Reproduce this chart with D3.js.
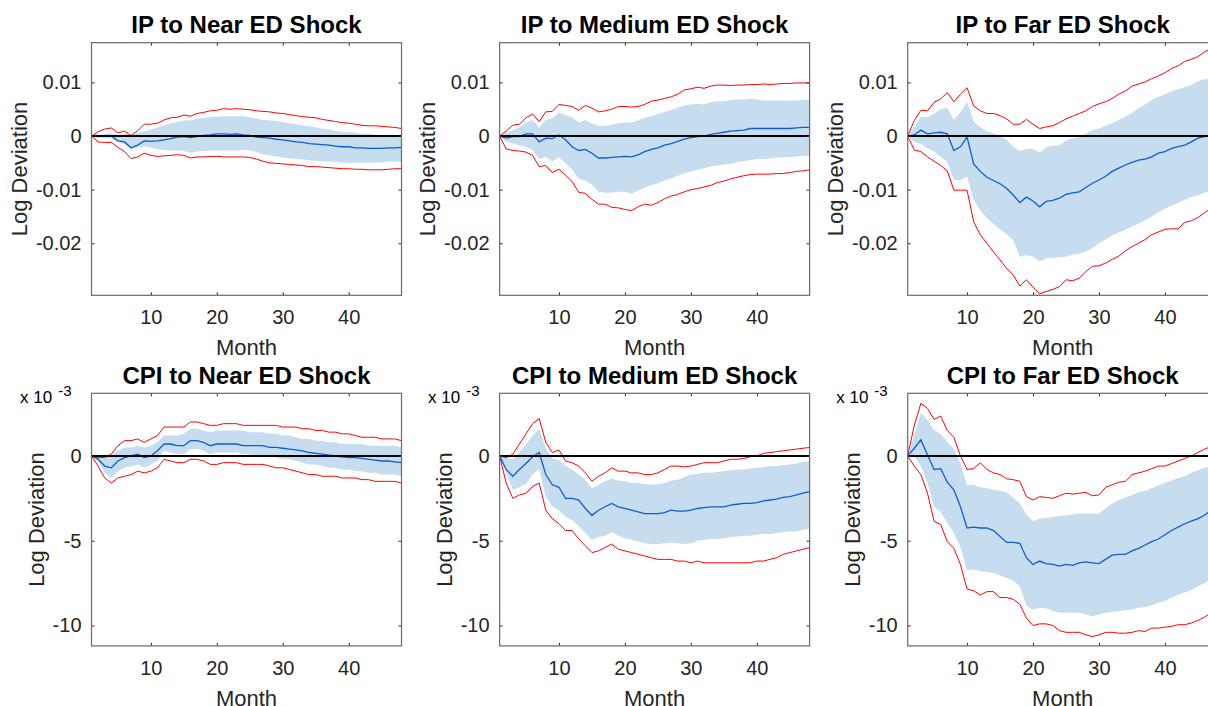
<!DOCTYPE html>
<html>
<head>
<meta charset="utf-8">
<script src="https://cdn.jsdelivr.net/npm/d3@7"></script>
<style>
  body { margin: 0; background: #fff; }
  svg { display: block; font-family: "Liberation Sans", Arial, Helvetica, sans-serif; }
</style>
</head>
<body>
<svg id="chart" width="1208" height="706"></svg>
<script>
// horizon in months
const months = d3.range(1, 49)

// every response below is in units of 10^-3 (log deviation x 1000)
// IP to Near ED shock
const ipNearMed  = [0,-0.1,0,0,-0.9,-1.1,-2.2,-1.7,-0.9,-1.0,-0.9,-0.7,-0.5,-0.2,-0.1,-0.3,-0.1,0.1,0.2,0.4,0.4,0.3,0.4,0.2,0.1,-0.2,-0.3,-0.4,-0.6,-0.7,-0.9,-1.1,-1.2,-1.4,-1.5,-1.6,-1.7,-1.9,-2.0,-2.0,-2.2,-2.2,-2.3,-2.3,-2.3,-2.2,-2.2,-2.1]
const ipNearHi68 = [0,0.2,0.4,0.5,0.2,0.4,0.1,0.6,0.9,1.2,1.6,2.0,2.4,2.6,2.9,2.9,3.2,3.4,3.5,3.6,3.7,3.7,3.7,3.7,3.5,3.2,3.0,2.9,2.8,2.6,2.4,2.2,2.0,1.8,1.6,1.4,1.2,1.0,0.8,0.7,0.6,0.4,0.4,0.3,0.2,0.2,0.2,0.1]
const ipNearLo68 = [0,-0.2,-0.4,-0.4,-1.1,-1.5,-2.5,-2.2,-1.9,-2.2,-2.4,-2.6,-2.7,-2.7,-2.8,-3.1,-2.9,-2.8,-2.7,-2.7,-2.7,-2.7,-2.7,-2.6,-2.7,-3.0,-3.4,-3.6,-3.8,-4.0,-4.2,-4.3,-4.4,-4.5,-4.6,-4.7,-4.8,-4.8,-4.9,-5.0,-5.0,-5.0,-5.0,-5.0,-4.9,-4.8,-4.8,-4.8]
const ipNearHi90 = [0,0.8,1.3,1.5,0.6,0.9,0.1,1.0,2.2,2.2,2.4,3.0,3.4,3.5,3.9,3.7,4.2,4.4,4.7,4.8,5.1,5.0,5.1,5.0,4.9,4.7,4.6,4.5,4.3,4.2,4.0,3.8,3.6,3.5,3.4,3.1,2.9,2.7,2.5,2.4,2.2,2.0,1.9,1.9,1.8,1.7,1.6,1.4]
const ipNearLo90 = [0,-1.1,-1.2,-1.2,-2.1,-2.9,-4.2,-3.9,-3.2,-3.6,-3.8,-3.7,-3.6,-3.5,-3.6,-4.1,-3.9,-3.9,-3.8,-3.8,-3.9,-3.9,-3.9,-3.9,-4.0,-4.3,-4.7,-5.0,-5.1,-5.2,-5.3,-5.4,-5.5,-5.7,-5.7,-5.8,-5.9,-6.0,-6.1,-6.1,-6.2,-6.2,-6.3,-6.3,-6.3,-6.2,-6.1,-6.1]

// IP to Medium ED shock
const ipMedMed  = [0,-0.4,-0.1,-0.1,0.4,0.4,-1.1,-0.4,-0.5,0.2,-0.7,-2.0,-2.7,-2.5,-3.2,-4.1,-4.1,-4.0,-3.9,-3.8,-3.9,-3.5,-2.9,-2.5,-2.2,-1.7,-1.4,-1.0,-0.6,-0.3,-0.1,0,0.3,0.5,0.7,0.9,1.0,1.1,1.4,1.4,1.4,1.4,1.4,1.4,1.4,1.5,1.6,1.6]
const ipMedHi68 = [0,0.5,1.1,1.6,2.5,3.0,1.6,3.0,3.3,4.4,3.9,3.5,2.5,3.0,2.4,1.9,1.9,2.1,2.4,2.5,2.5,2.9,3.4,3.7,4.1,4.5,4.8,5.3,5.7,5.9,6.0,5.9,6.3,6.5,6.5,6.7,6.8,6.8,7.0,6.8,6.6,6.6,6.6,6.6,6.6,6.6,6.7,6.8]
const ipMedLo68 = [0,-1.1,-1.4,-1.7,-2.0,-2.6,-4.3,-3.9,-4.7,-4.0,-5.1,-6.3,-8.0,-8.3,-9.1,-10.4,-10.6,-10.6,-10.4,-10.4,-10.7,-10.2,-9.6,-9.2,-8.8,-8.3,-7.9,-7.4,-7.0,-6.6,-6.3,-6.0,-5.7,-5.5,-5.3,-5.2,-4.9,-4.7,-4.5,-4.3,-4.3,-4.2,-4.0,-4.0,-3.9,-3.8,-3.7,-3.7]
const ipMedHi90 = [0,0.9,2.0,2.2,3.4,4.1,2.7,4.5,4.6,5.9,5.7,5.5,4.8,5.7,5.2,4.5,4.7,5.0,5.5,5.5,5.4,5.5,5.9,6.5,6.7,7.0,7.3,7.8,8.6,8.8,9.1,8.9,9.3,9.5,9.5,9.4,9.5,9.5,9.6,9.6,9.7,9.6,9.7,9.8,9.8,9.9,9.9,9.9]
const ipMedLo90 = [0,-2.4,-2.7,-2.8,-3.0,-3.6,-5.7,-5.5,-6.8,-6.2,-7.3,-8.5,-10.5,-10.7,-11.8,-12.7,-12.7,-13.3,-13.4,-13.7,-13.9,-13.2,-12.7,-12.9,-12.4,-11.7,-11.2,-10.9,-10.4,-10.0,-9.8,-9.5,-9.2,-8.7,-8.4,-8.0,-7.7,-7.4,-7.2,-7.1,-7.1,-7.1,-7.0,-7.0,-6.8,-6.6,-6.5,-6.3]

// IP to Far ED shock
const ipFarMed  = [0,0.2,1.1,0.4,0.6,0.7,0.4,-2.7,-2.0,-0.2,-5.2,-6.6,-7.7,-8.3,-8.9,-9.8,-11.0,-12.4,-11.4,-12.1,-13.2,-12.2,-12.0,-11.6,-10.9,-10.6,-10.4,-9.6,-8.8,-8.2,-7.5,-6.6,-6.0,-5.4,-4.9,-4.5,-4.3,-3.9,-3.2,-2.9,-2.3,-2.0,-1.7,-1.1,-0.4,-0.1,0.1,0.2]
const ipFarHi68 = [0,1.7,3.6,3.5,4.2,5.0,5.3,3.0,4.5,6.4,2.7,1.7,0.9,0.5,0,-0.7,-2.0,-2.8,-2.4,-2.4,-3.1,-2.1,-1.8,-1.7,-0.9,-0.4,-0.2,0.4,1.1,1.4,1.9,2.4,3.0,3.6,4.3,5.2,5.9,6.7,7.3,7.8,8.3,8.7,9.1,9.5,10.2,10.6,10.7,10.8]
const ipFarLo68 = [0,-1.1,-1.5,-2.3,-2.9,-3.9,-4.8,-8.2,-8.2,-7.6,-11.9,-13.8,-15.3,-16.4,-17.4,-18.3,-19.4,-22.5,-22.2,-22.5,-23.4,-22.8,-22.7,-22.6,-22.5,-22.1,-21.9,-21.6,-20.9,-20.0,-19.3,-18.5,-18.0,-17.5,-16.9,-16.3,-15.7,-15.0,-14.2,-13.5,-13.0,-12.5,-11.9,-11.4,-11.0,-10.6,-10.2,-9.9]
const ipFarHi90 = [0,2.9,4.8,4.7,6.3,6.9,8.1,6.4,7.8,9.0,5.6,4.7,4.2,4.2,3.8,3.2,2.2,2.2,3.1,2.2,1.4,1.7,1.9,2.5,3.2,3.7,4.2,4.7,5.5,6.0,6.4,7.0,7.8,8.4,9.3,9.7,10.1,10.7,11.2,11.8,12.6,13.1,13.9,14.3,14.8,15.7,16.3,17.0]
const ipFarLo90 = [0,-2.6,-2.9,-3.9,-4.7,-5.5,-6.5,-10.1,-10.1,-10.1,-16.0,-18.4,-20.0,-21.6,-23.1,-24.7,-25.9,-28.0,-26.8,-28.2,-29.4,-29.0,-28.6,-28.1,-26.8,-27.0,-26.5,-25.3,-24.3,-24.2,-23.7,-23.0,-22.4,-21.4,-20.6,-20.0,-19.3,-18.4,-17.9,-17.4,-17.3,-17.3,-16.1,-15.8,-15.2,-14.3,-13.5,-12.7]

// CPI to Near ED shock
const cpiNearMed  = [0,-0.2,-0.6,-0.7,-0.3,-0.1,0,0.1,-0.1,0,0.3,0.7,0.7,0.6,0.6,0.9,0.9,0.8,0.6,0.7,0.7,0.7,0.7,0.6,0.6,0.6,0.6,0.5,0.5,0.45,0.4,0.35,0.3,0.2,0.15,0.1,0.05,0,-0.05,-0.1,-0.1,-0.15,-0.2,-0.25,-0.3,-0.3,-0.35,-0.4]
const cpiNearHi68 = [0,0,0,0,0.3,0.5,0.5,0.6,0.5,0.6,0.8,1.2,1.2,1.2,1.3,1.6,1.6,1.5,1.4,1.5,1.5,1.5,1.5,1.5,1.4,1.4,1.4,1.3,1.3,1.2,1.2,1.1,1.0,1.0,0.9,0.9,0.8,0.8,0.7,0.7,0.7,0.7,0.6,0.6,0.6,0.6,0.6,0.5]
const cpiNearLo68 = [0,-0.3,-1.0,-1.3,-0.9,-0.7,-0.6,-0.5,-0.7,-0.5,-0.3,0.3,0.2,0.1,0.1,0.4,0.4,0.3,0.1,0.2,0.2,0.2,0.2,0.1,0.1,0,0,0,-0.1,-0.2,-0.2,-0.3,-0.4,-0.5,-0.5,-0.6,-0.7,-0.7,-0.8,-0.8,-0.9,-0.9,-1.0,-1.0,-1.1,-1.1,-1.1,-1.2]
const cpiNearHi90 = [0,-0.1,-0.1,0.1,0.6,0.9,0.9,1.0,0.8,1.0,1.2,1.7,1.7,1.7,1.7,2.0,2.0,1.9,1.8,1.8,1.9,1.9,1.9,1.8,1.8,1.8,1.8,1.8,1.8,1.7,1.7,1.7,1.6,1.6,1.5,1.5,1.4,1.4,1.3,1.3,1.2,1.1,1.1,1.1,1.0,1.0,1.0,0.9]
const cpiNearLo90 = [0,-0.6,-1.3,-1.6,-1.3,-1.2,-1.1,-0.9,-1.0,-0.9,-0.7,-0.2,-0.3,-0.4,-0.4,-0.2,-0.2,-0.3,-0.5,-0.5,-0.4,-0.4,-0.4,-0.5,-0.5,-0.5,-0.5,-0.6,-0.7,-0.7,-0.8,-0.9,-1.0,-1.1,-1.1,-1.2,-1.2,-1.2,-1.3,-1.3,-1.3,-1.4,-1.4,-1.5,-1.5,-1.5,-1.5,-1.6]

// CPI to Medium ED shock
const cpiMedMed  = [0,-0.8,-1.2,-0.8,-0.45,-0.05,0.2,-1.1,-1.7,-1.85,-2.5,-2.5,-2.6,-3.1,-3.5,-3.2,-3.0,-2.8,-3.0,-3.1,-3.2,-3.3,-3.4,-3.4,-3.4,-3.35,-3.2,-3.25,-3.25,-3.2,-3.1,-3.05,-3.0,-3.0,-3.0,-2.9,-2.85,-2.8,-2.8,-2.75,-2.65,-2.6,-2.55,-2.45,-2.4,-2.3,-2.2,-2.1]
const cpiMedHi68 = [0,-0.1,-0.2,0.25,0.65,1.2,1.6,0.45,-0.15,-0.25,-0.6,-0.8,-1.1,-1.4,-1.9,-1.7,-1.5,-1.35,-1.45,-1.5,-1.6,-1.6,-1.65,-1.7,-1.65,-1.6,-1.45,-1.4,-1.25,-1.1,-1.05,-1.0,-1.0,-0.95,-0.9,-0.85,-0.8,-0.8,-0.75,-0.7,-0.65,-0.6,-0.6,-0.55,-0.5,-0.45,-0.35,-0.3]
const cpiMedLo68 = [0,-1.0,-2.0,-1.85,-1.65,-1.1,-0.8,-2.4,-3.0,-3.2,-3.6,-3.8,-4.15,-4.55,-4.95,-4.8,-4.7,-4.5,-4.7,-4.85,-4.95,-5.05,-5.15,-5.2,-5.2,-5.15,-5.1,-5.15,-5.2,-5.15,-5.0,-4.95,-4.9,-4.9,-4.85,-4.8,-4.75,-4.7,-4.7,-4.65,-4.6,-4.6,-4.55,-4.5,-4.45,-4.45,-4.35,-4.3]
const cpiMedHi90 = [0,-0.1,0.1,0.7,1.3,1.9,2.2,0.8,0.2,0.35,-0.3,-0.4,-0.6,-1.0,-1.5,-1.2,-1.0,-0.7,-0.9,-0.9,-1.0,-1.0,-1.1,-1.1,-1.0,-0.8,-0.6,-0.6,-0.65,-0.6,-0.5,-0.4,-0.4,-0.4,-0.3,-0.2,-0.2,-0.15,-0.05,0,0.15,0.2,0.25,0.3,0.35,0.4,0.45,0.5]
const cpiMedLo90 = [0,-1.6,-2.5,-2.3,-2.2,-1.8,-1.6,-3.2,-3.7,-4.0,-4.4,-4.4,-4.9,-5.3,-5.7,-5.6,-5.4,-5.2,-5.5,-5.6,-5.7,-5.8,-5.9,-6.0,-6.1,-6.1,-6.1,-6.2,-6.2,-6.3,-6.2,-6.3,-6.3,-6.3,-6.3,-6.3,-6.3,-6.3,-6.3,-6.2,-6.2,-6.1,-6.0,-5.8,-5.7,-5.6,-5.5,-5.4]

// CPI to Far ED shock
const cpiFarMed  = [0,0.45,0.95,0.05,-0.8,-0.75,-1.55,-2.0,-3.0,-4.25,-4.2,-4.25,-4.25,-4.4,-4.75,-5.1,-5.1,-5.15,-6.0,-6.4,-6.2,-6.35,-6.4,-6.5,-6.4,-6.45,-6.3,-6.25,-6.3,-6.35,-6.1,-5.85,-5.8,-5.8,-5.6,-5.45,-5.25,-5.05,-4.9,-4.65,-4.4,-4.2,-4.0,-3.85,-3.7,-3.5,-3.2,-3.0]
const cpiFarHi68 = [0,1.2,2.55,2.1,1.5,1.3,0.8,0.4,-0.45,-1.75,-1.7,-1.85,-1.9,-2.0,-2.05,-2.15,-2.45,-2.8,-3.45,-3.85,-3.7,-3.65,-3.6,-3.55,-3.5,-3.45,-3.4,-3.4,-3.4,-3.4,-3.1,-2.8,-2.6,-2.45,-2.3,-2.15,-2.05,-1.9,-1.75,-1.6,-1.45,-1.3,-1.2,-1.0,-0.85,-0.7,-0.6,-0.45]
const cpiFarLo68 = [0,0,-0.6,-1.6,-3.0,-3.3,-3.95,-4.55,-5.35,-6.75,-6.7,-6.8,-6.85,-6.9,-7.05,-7.2,-7.35,-7.7,-8.85,-9.05,-8.95,-9.0,-9.15,-9.25,-9.25,-9.25,-9.25,-9.35,-9.45,-9.35,-9.25,-9.2,-9.15,-9.1,-9.05,-8.95,-8.9,-8.8,-8.65,-8.55,-8.35,-8.2,-8.05,-7.9,-7.7,-7.5,-7.3,-7.1]
const cpiFarHi90 = [0,1.8,3.1,2.8,2.15,2.35,1.5,1.1,0,-0.8,-0.75,-0.4,-0.8,-1.0,-1.1,-1.35,-1.4,-1.5,-2.4,-2.6,-2.4,-2.45,-2.5,-2.35,-2.2,-2.25,-2.2,-2.15,-2.35,-2.3,-1.85,-1.7,-1.55,-1.5,-1.1,-1.0,-0.9,-0.75,-0.6,-0.6,-0.45,-0.3,-0.15,0,0.2,0.4,0.55,0.65]
const cpiFarLo90 = [0,-0.6,-1.1,-2.2,-3.85,-4.05,-5.05,-5.45,-6.4,-7.85,-7.95,-8.2,-8.0,-8.0,-8.35,-8.35,-8.45,-8.75,-9.55,-10.0,-9.9,-9.9,-10.0,-10.3,-10.4,-10.4,-10.4,-10.55,-10.65,-10.55,-10.4,-10.4,-10.45,-10.45,-10.4,-10.3,-10.35,-10.15,-10.15,-10.1,-10.05,-9.95,-9.95,-9.85,-9.7,-9.5,-9.25,-9.05]

const titles = ['IP to Near ED Shock', 'IP to Medium ED Shock', 'IP to Far ED Shock',
                'CPI to Near ED Shock', 'CPI to Medium ED Shock', 'CPI to Far ED Shock']
const xTicks = [10, 20, 30, 40]
const ipTicks = [-20, -10, 0, 10]
const cpiTicks = [-10, -5, 0]

const panels = [
  { med: ipNearMed, hi68: ipNearHi68, lo68: ipNearLo68, hi90: ipNearHi90, lo90: ipNearLo90 },
  { med: ipMedMed, hi68: ipMedHi68, lo68: ipMedLo68, hi90: ipMedHi90, lo90: ipMedLo90 },
  { med: ipFarMed, hi68: ipFarHi68, lo68: ipFarLo68, hi90: ipFarHi90, lo90: ipFarLo90 },
  { med: cpiNearMed, hi68: cpiNearHi68, lo68: cpiNearLo68, hi90: cpiNearHi90, lo90: cpiNearLo90 },
  { med: cpiMedMed, hi68: cpiMedHi68, lo68: cpiMedLo68, hi90: cpiMedHi90, lo90: cpiMedLo90 },
  { med: cpiFarMed, hi68: cpiFarHi68, lo68: cpiFarLo68, hi90: cpiFarHi90, lo90: cpiFarLo90 }
]
panels.forEach((p, i) => { p.title = titles[i]; p.kind = i < 3 ? 'ip' : 'cpi' })

const FONT = '"Liberation Sans", Arial, Helvetica, sans-serif'
const TXT = '#262626'
const svg = d3.select('#chart')
const plotW = 310, plotH = 252.6
const left0 = 91.5, top0 = 42.7, colStep = 408.1, rowStep = 350.6

const x = d3.scaleLinear().domain([1, 48]).range([0, plotW])
const yIP = d3.scaleLinear().domain([-29.7, 17.4]).range([plotH, 0])
const yCPI = d3.scaleLinear().domain([-11.2, 3.69]).range([plotH, 0])

panels.forEach((p, i) => {
  const col = i % 3, row = Math.floor(i / 3)
  const ox = left0 + col * colStep, oy = top0 + row * rowStep
  const isIP = p.kind === 'ip'
  const y = isIP ? yIP : yCPI
  const g = svg.append('g').attr('transform', `translate(${ox},${oy})`)

  const clipId = 'clip' + i
  g.append('clipPath').attr('id', clipId).append('rect')
    .attr('width', plotW).attr('height', plotH)
  const plot = g.append('g').attr('clip-path', `url(#${clipId})`)

  // 68% band
  plot.append('path')
    .datum(months)
    .attr('d', d3.area().x(m => x(m)).y0((m, k) => y(p.lo68[k])).y1((m, k) => y(p.hi68[k])))
    .attr('fill', '#c6ddf0')

  // 90% bounds in red
  for (const key of ['hi90', 'lo90']) {
    plot.append('path')
      .datum(months)
      .attr('d', d3.line().x(m => x(m)).y((m, k) => y(p[key][k])))
      .attr('fill', 'none').attr('stroke', '#ff0000').attr('stroke-width', 1)
  }

  // median response
  plot.append('path')
    .datum(months)
    .attr('d', d3.line().x(m => x(m)).y((m, k) => y(p.med[k])))
    .attr('fill', 'none').attr('stroke', '#0b5fd0').attr('stroke-width', 1.3)

  // zero line
  plot.append('line')
    .attr('x1', x(1)).attr('x2', x(48))
    .attr('y1', y(0)).attr('y2', y(0))
    .attr('stroke', '#000').attr('stroke-width', 2)

  // axes, ticks pointing inward on all four sides
  const fmt = isIP ? (v => v === 0 ? '0' : String(v / 1000)) : (v => String(v))
  const yTicks = isIP ? ipTicks : cpiTicks
  const axes = [
    g.append('g').attr('transform', `translate(0,${plotH})`)
      .call(d3.axisBottom(x).tickValues(xTicks).tickSize(-3).tickPadding(14.5)),
    g.append('g')
      .call(d3.axisTop(x).tickValues(xTicks).tickSize(-3).tickFormat('')),
    g.append('g')
      .call(d3.axisLeft(y).tickValues(yTicks).tickSize(-3).tickPadding(10).tickFormat(fmt)),
    g.append('g').attr('transform', `translate(${plotW},0)`)
      .call(d3.axisRight(y).tickValues(yTicks).tickSize(-3).tickFormat(''))
  ]
  axes.forEach(a => {
    a.attr('font-family', FONT).attr('font-size', 20)
    a.select('.domain').remove()
    a.selectAll('.tick line').attr('stroke', TXT)
    a.selectAll('.tick text').attr('fill', TXT)
  })

  // box
  g.append('rect')
    .attr('width', plotW).attr('height', plotH)
    .attr('fill', 'none').attr('stroke', '#6a6a6a').attr('stroke-width', 1.2)

  // title
  g.append('text')
    .attr('x', plotW / 2).attr('y', -9.5)
    .attr('text-anchor', 'middle')
    .attr('font-size', 24).attr('font-weight', 'bold').attr('fill', '#000')
    .text(p.title)

  // axis labels
  g.append('text')
    .attr('x', plotW / 2).attr('y', plotH + 59.7)
    .attr('text-anchor', 'middle').attr('font-size', 22).attr('fill', TXT)
    .text('Month')
  g.append('text')
    .attr('transform', `translate(${isIP ? -65 : -48},${plotH / 2}) rotate(-90)`)
    .attr('text-anchor', 'middle').attr('font-size', 22).attr('fill', TXT)
    .text('Log Deviation')

  // exponent note on the CPI panels
  if (!isIP) {
    const t = g.append('text')
      .attr('x', -71.5).attr('y', 9.4)
      .attr('font-size', 17).attr('fill', '#000')
    t.append('tspan').text('x 10')
    t.append('tspan').attr('dx', 6).attr('dy', -7).attr('font-size', 15).text('-3')
  }
})
</script>
</body>
</html>
